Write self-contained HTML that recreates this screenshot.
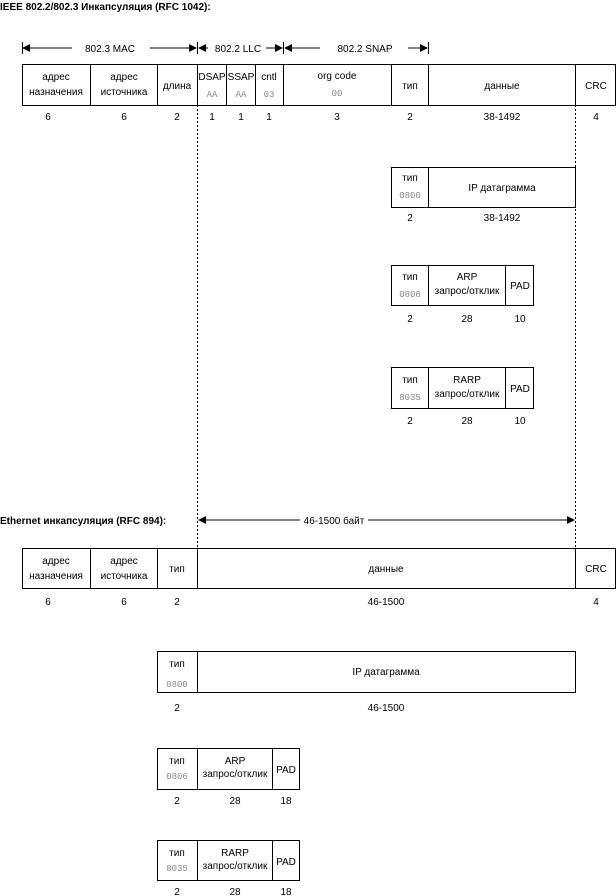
<!DOCTYPE html>
<html><head><meta charset="utf-8"><style>
html,body{margin:0;padding:0;background:#fff}
svg{display:block}
text{font-family:"Liberation Sans",Arial,sans-serif;font-size:10px;fill:#000}
.m{font-family:"Liberation Mono",monospace;font-size:9px;fill:#888}
.b{font-weight:bold}
</style></head><body>
<svg width="616" height="896" viewBox="0 0 616 896" xmlns="http://www.w3.org/2000/svg">
<defs>
<marker id="a" markerWidth="8" markerHeight="8" refX="7" refY="4" orient="auto" markerUnits="userSpaceOnUse"><path d="M0,0 L8,4 L0,8 z" fill="#000"/></marker>
<marker id="s" markerWidth="8" markerHeight="8" refX="1" refY="4" orient="auto" markerUnits="userSpaceOnUse"><path d="M8,0 L0,4 L8,8 z" fill="#000"/></marker>
</defs>
<text x="0" y="10" class="b">IEEE 802.2/802.3 Инкапсуляция (RFC 1042):</text>
<g stroke="#000" stroke-width="1" fill="none">
<line x1="22.5" y1="42" x2="22.5" y2="54"/><line x1="197.5" y1="42" x2="197.5" y2="54"/><line x1="283.5" y1="42" x2="283.5" y2="54"/><line x1="428.5" y1="42" x2="428.5" y2="54"/>
<line x1="23" y1="48" x2="72" y2="48" marker-start="url(#s)"/><line x1="150" y1="48" x2="196" y2="48" marker-end="url(#a)"/>
<line x1="199" y1="48" x2="208" y2="48" marker-start="url(#s)"/><line x1="266" y1="48" x2="282" y2="48" marker-end="url(#a)"/>
<line x1="285" y1="48" x2="320" y2="48" marker-start="url(#s)"/><line x1="408" y1="48" x2="427" y2="48" marker-end="url(#a)"/>
</g>
<text x="110" y="52" text-anchor="middle">802.3 MAC</text>
<text x="238" y="52" text-anchor="middle">802.2 LLC</text>
<text x="365" y="52" text-anchor="middle">802.2 SNAP</text>
<g stroke="#000" fill="none">
<rect x="22.5" y="64.5" width="593" height="41"/>
<path d="M90.5 64v41M157.5 64v41M197.5 64v41M226.5 64v41M255.5 64v41M283.5 64v41M391.5 64v41M428.5 64v41M575.5 64v41"/>
<path d="M197.5 105v443M575.5 105v443" stroke-dasharray="2,2"/>
</g>
<text x="56" y="80" text-anchor="middle">адрес</text><text x="56" y="95" text-anchor="middle">назначения</text>
<text x="124" y="80" text-anchor="middle">адрес</text><text x="124" y="95" text-anchor="middle">источника</text>
<text x="177" y="89" text-anchor="middle">длина</text>
<text x="212" y="80" text-anchor="middle">DSAP</text><text x="212" y="97" text-anchor="middle" class="m">AA</text>
<text x="241" y="80" text-anchor="middle">SSAP</text><text x="241" y="97" text-anchor="middle" class="m">AA</text>
<text x="269" y="80" text-anchor="middle">cntl</text><text x="269" y="97" text-anchor="middle" class="m">03</text>
<text x="337" y="79" text-anchor="middle">org code</text><text x="337" y="96" text-anchor="middle" class="m">00</text>
<text x="410" y="89" text-anchor="middle">тип</text>
<text x="502" y="89" text-anchor="middle">данные</text>
<text x="596" y="89" text-anchor="middle">CRC</text>
<g text-anchor="middle">
<text x="48" y="120">6</text><text x="124" y="120">6</text><text x="177" y="120">2</text><text x="212" y="120">1</text><text x="241" y="120">1</text><text x="269" y="120">1</text><text x="337" y="120">3</text><text x="410" y="120">2</text><text x="502" y="120">38-1492</text><text x="596" y="120">4</text>
</g>
<g stroke="#000" fill="none"><rect x="391.5" y="167.5" width="184" height="40"/><path d="M428.5 167v40"/></g>
<text x="410" y="181" text-anchor="middle">тип</text><text x="410" y="198" text-anchor="middle" class="m">0800</text>
<text x="502" y="191" text-anchor="middle">IP датаграмма</text>
<text x="410" y="221" text-anchor="middle">2</text><text x="502" y="221" text-anchor="middle">38-1492</text>
<g stroke="#000" fill="none"><rect x="391.5" y="265.5" width="142" height="40"/><path d="M428.5 265v40M505.5 265v40"/></g>
<text x="410" y="280" text-anchor="middle">тип</text><text x="410" y="297" text-anchor="middle" class="m">0806</text>
<text x="467" y="280" text-anchor="middle">ARP</text><text x="467" y="294" text-anchor="middle">запрос/отклик</text>
<text x="520" y="289" text-anchor="middle">PAD</text>
<text x="410" y="322" text-anchor="middle">2</text><text x="467" y="322" text-anchor="middle">28</text><text x="520" y="322" text-anchor="middle">10</text>
<g stroke="#000" fill="none"><rect x="391.5" y="367.5" width="142" height="41"/><path d="M428.5 367v41M505.5 367v41"/></g>
<text x="410" y="383" text-anchor="middle">тип</text><text x="410" y="400" text-anchor="middle" class="m">8035</text>
<text x="467" y="383" text-anchor="middle">RARP</text><text x="467" y="397" text-anchor="middle">запрос/отклик</text>
<text x="520" y="392" text-anchor="middle">PAD</text>
<text x="410" y="424" text-anchor="middle">2</text><text x="467" y="424" text-anchor="middle">28</text><text x="520" y="424" text-anchor="middle">10</text>
<text x="0" y="524" class="b">Ethernet инкапсуляция (RFC 894):</text>
<g stroke="#000" fill="none">
<line x1="199" y1="520" x2="300" y2="520" marker-start="url(#s)"/><line x1="368" y1="520" x2="574" y2="520" marker-end="url(#a)"/>
<rect x="22.5" y="548.5" width="593" height="40"/>
<path d="M90.5 548v40M157.5 548v40M197.5 548v40M575.5 548v40"/>
</g>
<text x="334" y="524" text-anchor="middle">46-1500 байт</text>
<text x="56" y="564" text-anchor="middle">адрес</text><text x="56" y="579" text-anchor="middle">назначения</text>
<text x="124" y="564" text-anchor="middle">адрес</text><text x="124" y="579" text-anchor="middle">источника</text>
<text x="177" y="572" text-anchor="middle">тип</text>
<text x="386" y="572" text-anchor="middle">данные</text>
<text x="596" y="572" text-anchor="middle">CRC</text>
<text x="48" y="605" text-anchor="middle">6</text><text x="124" y="605" text-anchor="middle">6</text><text x="177" y="605" text-anchor="middle">2</text><text x="386" y="605" text-anchor="middle">46-1500</text><text x="596" y="605" text-anchor="middle">4</text>
<g stroke="#000" fill="none"><rect x="157.5" y="651.5" width="418" height="41"/><path d="M197.5 651v41"/></g>
<text x="177" y="667" text-anchor="middle">тип</text><text x="177" y="687" text-anchor="middle" class="m">0800</text>
<text x="386" y="675" text-anchor="middle">IP датаграмма</text>
<text x="177" y="711" text-anchor="middle">2</text><text x="386" y="711" text-anchor="middle">46-1500</text>
<g stroke="#000" fill="none"><rect x="157.5" y="748.5" width="142" height="41"/><path d="M197.5 748v41M272.5 748v41"/></g>
<text x="177" y="764" text-anchor="middle">тип</text><text x="177" y="779" text-anchor="middle" class="m">0806</text>
<text x="235" y="764" text-anchor="middle">ARP</text><text x="235" y="777" text-anchor="middle">запрос/отклик</text>
<text x="286" y="773" text-anchor="middle">PAD</text>
<text x="177" y="804" text-anchor="middle">2</text><text x="235" y="804" text-anchor="middle">28</text><text x="286" y="804" text-anchor="middle">18</text>
<g stroke="#000" fill="none"><rect x="157.5" y="840.5" width="142" height="40"/><path d="M197.5 840v40M272.5 840v40"/></g>
<text x="177" y="856" text-anchor="middle">тип</text><text x="177" y="871" text-anchor="middle" class="m">8035</text>
<text x="235" y="856" text-anchor="middle">RARP</text><text x="235" y="869" text-anchor="middle">запрос/отклик</text>
<text x="286" y="865" text-anchor="middle">PAD</text>
<text x="177" y="895" text-anchor="middle">2</text><text x="235" y="895" text-anchor="middle">28</text><text x="286" y="895" text-anchor="middle">18</text>
</svg>
</body></html>
